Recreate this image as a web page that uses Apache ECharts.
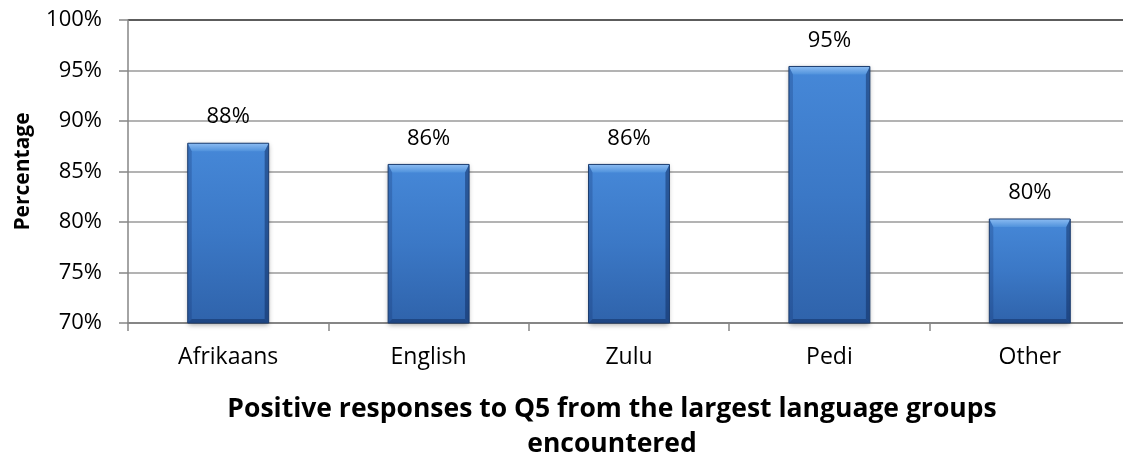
<!DOCTYPE html>
<html>
<head>
<meta charset="utf-8">
<script src="https://cdn.jsdelivr.net/npm/echarts@6/dist/echarts.min.js"></script>
<style>
  html, body { margin: 0; padding: 0; background: #ffffff; }
  #chart { width: 1123px; height: 462px; }
</style>
</head>
<body>
<div id="chart"></div>
<script>
// Survey results: share of positive answers per language group
const categories = ['Afrikaans', 'English', 'Zulu', 'Pedi', 'Other'];
const values = [87.8, 85.7, 85.7, 95.4, 80.3];

// Value axis range and step (percent)
const axisMin = 70;
const axisMax = 100;
const axisStep = 5;

const yAxisTitle = 'Percentage';
const chartTitle = 'Positive responses to Q5 from the largest language groups\nencountered';

const FONT = "'Open Sans', 'DejaVu Sans', sans-serif";
const BAR_RATIO = 0.404;

const chart = echarts.init(document.getElementById('chart'), null, { renderer: 'canvas' });

// Bevel overlay drawn on top of each bar
function renderBevel(params, api) {
  const idx = api.value(0);
  const v = api.value(1);
  const top = api.coord([idx, v]);
  const base = api.coord([idx, axisMin]);
  const w = api.size([1, 0])[0] * BAR_RATIO;
  const x0 = top[0] - w / 2, x1 = top[0] + w / 2;
  const y0 = top[1], y1 = base[1];
  const s = 4, b = 8, s2 = 4;
  return {
    type: 'group',
    children: [
      {
        type: 'polygon',
        shape: { points: [[x0, y0], [x1, y0], [x1 - s, y0 + b], [x0 + s, y0 + b]] },
        style: {
          fill: new echarts.graphic.LinearGradient(0, 0, 0, 1, [
            { offset: 0, color: '#8cbcf2' },
            { offset: 1, color: '#5092dc' }
          ])
        }
      },
      {
        type: 'polygon',
        shape: { points: [[x0, y0], [x0 + s, y0 + b], [x0 + s, y1 - s2], [x0, y1]] },
        style: { fill: 'rgba(20,55,115,0.28)' }
      },
      {
        type: 'polygon',
        shape: { points: [[x1, y0], [x1, y1], [x1 - s, y1 - s2], [x1 - s, y0 + b]] },
        style: { fill: 'rgba(10,35,85,0.45)' }
      },
      {
        type: 'polygon',
        shape: { points: [[x0, y1], [x0 + s, y1 - s2], [x1 - s, y1 - s2], [x1, y1]] },
        style: { fill: 'rgba(10,35,85,0.45)' }
      },
      {
        type: 'rect',
        shape: { x: x0, y: y0, width: w, height: y1 - y0 },
        style: { fill: 'none', stroke: '#1d3d6e', lineWidth: 1 }
      }
    ]
  };
}

const option = {
  backgroundColor: '#ffffff',
  animation: false,
  grid: {
    left: 128,
    top: 20,
    width: 1002,
    height: 303,
    containLabel: false,
    outerBoundsMode: 'none'
  },
  xAxis: {
    type: 'category',
    data: categories,
    boundaryGap: true,
    axisLine: { show: true, lineStyle: { color: '#868686', width: 2 } },
    axisTick: { show: true, length: 8, inside: false, lineStyle: { color: '#868686', width: 1.5 } },
    axisLabel: { color: '#000000', fontFamily: FONT, fontSize: 23, margin: 23 },
    splitLine: { show: false }
  },
  yAxis: {
    type: 'value',
    min: axisMin,
    max: axisMax,
    interval: axisStep,
    name: yAxisTitle,
    nameLocation: 'middle',
    nameRotate: 90,
    nameGap: 94,
    nameTextStyle: { color: '#000000', fontFamily: FONT, fontWeight: 'bold', fontSize: 21 },
    axisLine: { show: true, lineStyle: { color: '#868686', width: 1.5 } },
    axisTick: { show: true, length: 9, inside: false, lineStyle: { color: '#868686', width: 1.5 } },
    axisLabel: {
      color: '#000000',
      fontFamily: FONT,
      fontSize: 22,
      margin: 26,
      formatter: (v) => v + '%'
    },
    splitLine: {
      show: true,
      lineStyle: {
        color: ['#9a9a9a', '#9a9a9a', '#9a9a9a', '#9a9a9a', '#9a9a9a', '#9a9a9a', '#262626'],
        width: 1.6
      }
    }
  },
  series: [
    {
      type: 'bar',
      data: values,
      barWidth: (BAR_RATIO * 100) + '%',
      z: 2,
      itemStyle: {
        color: new echarts.graphic.LinearGradient(0, 0, 0, 1, [
          { offset: 0, color: '#4688d8' },
          { offset: 0.5, color: '#3b78c6' },
          { offset: 1, color: '#2f63ab' }
        ]),
        shadowBlur: 5,
        shadowColor: 'rgba(0,0,0,0.35)',
        shadowOffsetY: 2
      },
      label: {
        show: true,
        position: 'top',
        distance: 15,
        color: '#000000',
        fontFamily: FONT,
        fontSize: 22,
        formatter: (p) => Math.round(p.value) + '%'
      }
    },
    {
      type: 'custom',
      silent: true,
      z: 3,
      renderItem: renderBevel,
      encode: { x: 0, y: 1 },
      data: values.map((v, i) => [i, v])
    }
  ],
  graphic: [
    {
      type: 'text',
      x: 612,
      y: 392,
      style: {
        text: chartTitle,
        fill: '#000000',
        font: "bold 26.5px 'Open Sans', 'DejaVu Sans', sans-serif",
        lineHeight: 35,
        textAlign: 'center',
        textVerticalAlign: 'top'
      }
    }
  ]
};

chart.setOption(option);
</script>
</body>
</html>
